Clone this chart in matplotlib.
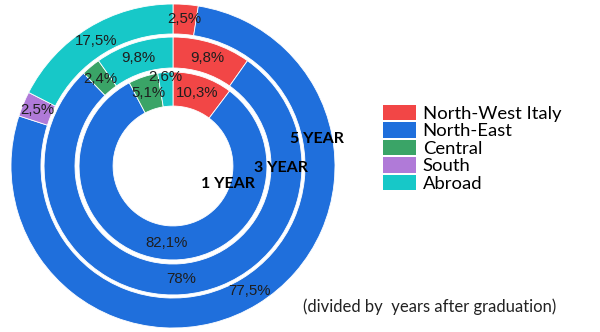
import numpy as np
import matplotlib
matplotlib.use("Agg")
import matplotlib.pyplot as plt
from matplotlib.patches import Patch

regions = ["North-West Italy", "North-East", "Central", "South", "Abroad"]
colors = ["#f24646", "#1f6fdc", "#3aa467", "#b07ad8", "#17c8c8"]

year_1 = [10.3, 82.1, 5.1, 0.0, 2.6]
year_3 = [9.8, 78.0, 2.4, 0.0, 9.8]
year_5 = [2.5, 77.5, 0.0, 2.5, 17.5]

ring_names = ["1 YEAR", "3 YEAR", "5 YEAR"]

fig = plt.figure(figsize=(6, 3.32), dpi=100)
fig.patch.set_facecolor("white")
ax = fig.add_axes([11 / 600, 4 / 332, 324 / 600, 324 / 332])

# (values, outer radius, ring width)
rings = [
    (year_1, 0.58, 0.21),
    (year_3, 0.796, 0.191),
    (year_5, 1.0, 0.185),
]

pct_font = dict(family=["Liberation Sans", "DejaVu Sans"], fontsize=10.8, color="#1e1e1e")

for vals, r_out, w in rings:
    keep = [i for i, v in enumerate(vals) if v > 0]
    v = [vals[i] for i in keep]
    c = [colors[i] for i in keep]
    wedges, _ = ax.pie(v, radius=r_out, colors=c, startangle=90, counterclock=False,
                       wedgeprops=dict(width=w, edgecolor="white", linewidth=0.6))
    r_mid = r_out - w / 2
    for wdg, val in zip(wedges, v):
        ang = np.deg2rad((wdg.theta1 + wdg.theta2) / 2)
        r = r_mid
        if val < 3 and r_out < 0.6:
            r = r_mid + 0.075  # small inner slice pushed outward
        txt = f"{val:g}".replace(".", ",") + "%"
        ax.text(r * np.cos(ang), r * np.sin(ang), txt, ha="center", va="center", **pct_font)

ax.set_xlim(-1, 1)
ax.set_ylim(-1, 1)
ax.set_aspect("equal")
ax.axis("off")

# ring captions
year_pos = [(0.34, -0.111), (0.667, -0.012), (0.889, 0.167)]
for name, (x, y) in zip(ring_names, year_pos):
    ax.text(x, y, name, ha="center", va="center", fontsize=11.5, fontweight="bold",
            family=["Lato", "DejaVu Sans"], color="black")

handles = [Patch(facecolor=c, edgecolor="none") for c in colors]
leg = fig.legend(handles, regions, loc="upper left", bbox_to_anchor=(383 / 600, 1 - 105 / 332),
                 frameon=False, prop=dict(family=["Lato", "DejaVu Sans"], size=13.3),
                 handlelength=1.8, handleheight=0.9, handletextpad=0.35, labelspacing=0.02,
                 borderaxespad=0, borderpad=0)

fig.text(430 / 600, 1 - 307 / 332, "(divided by  years after graduation)", ha="center", va="center",
         fontsize=12, family=["Lato", "DejaVu Sans"], color="#222222")

fig.savefig("out.png", dpi=100, facecolor="white")
